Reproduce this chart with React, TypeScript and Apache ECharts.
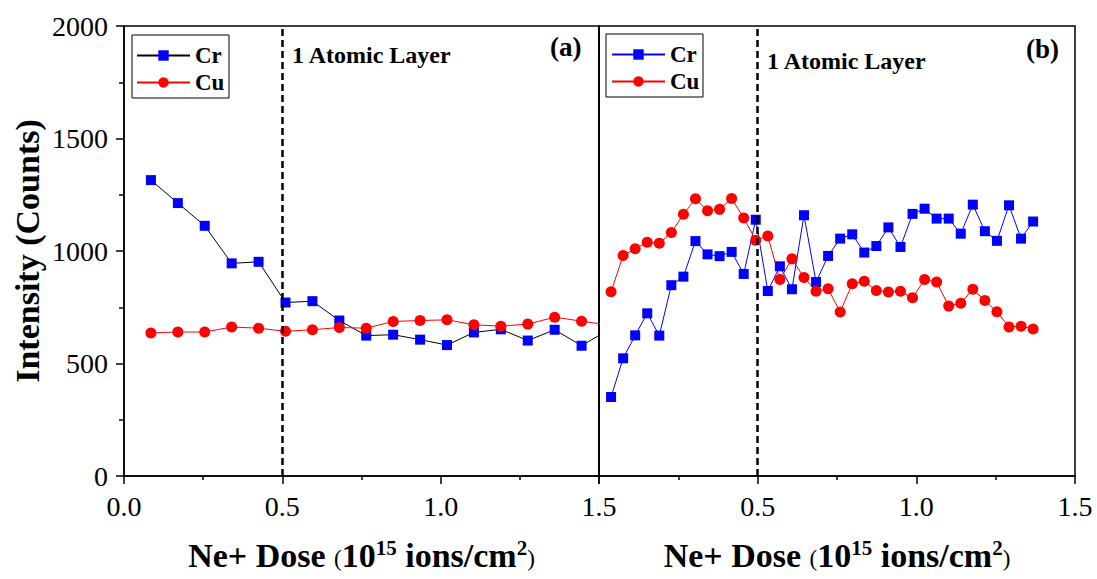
import React, { useEffect, useRef } from "react";
import * as echarts from "echarts";

const FONT = "Liberation Serif";

// Panel (a)
const doseA = [0.085, 0.17, 0.255, 0.34, 0.425, 0.51, 0.595, 0.68, 0.765, 0.85, 0.935, 1.02, 1.105, 1.19, 1.275, 1.36, 1.445, 1.53];
const crA = [1315, 1213, 1112, 945, 952, 771, 777, 691, 624, 628, 606, 582, 638, 652, 602, 650, 579, 650];
const cuA = [636, 640, 640, 662, 657, 643, 650, 660, 657, 687, 691, 694, 672, 666, 675, 706, 688, 671];

// Panel (b)
const doseB = [0.038, 0.076, 0.114, 0.152, 0.19, 0.228, 0.266, 0.304, 0.342, 0.38, 0.418, 0.456, 0.494, 0.532, 0.57, 0.608, 0.646, 0.684, 0.722, 0.76, 0.798, 0.836, 0.874, 0.912, 0.95, 0.988, 1.026, 1.064, 1.102, 1.14, 1.178, 1.216, 1.254, 1.292, 1.33, 1.368];
const crB = [351, 523, 625, 723, 624, 848, 886, 1044, 985, 977, 996, 898, 1139, 822, 932, 830, 1159, 862, 978, 1055, 1074, 993, 1022, 1105, 1018, 1165, 1188, 1144, 1144, 1077, 1206, 1088, 1045, 1203, 1055, 1131];
const cuB = [819, 980, 1010, 1039, 1034, 1082, 1163, 1232, 1179, 1185, 1233, 1147, 1048, 1067, 873, 965, 882, 821, 832, 729, 854, 866, 824, 818, 821, 792, 873, 862, 755, 768, 830, 780, 730, 662, 666, 653];

const xTicksA = ["0.0", "0.5", "1.0", "1.5"];
const xTicksB = ["", "0.5", "1.0", "1.5"];
const layerMark = 0.5;

const pairs = (xs: number[], ys: number[]) => xs.map((x, i) => [x, ys[i]]);

const xTitle = "{b|Ne+ Dose }{p|(}{b|10}{s|15}{b| ions/cm}{s|2}{p|)}";
const xTitleRich = {
  b: { fontFamily: FONT, fontWeight: "bold", fontSize: 34, color: "#000" },
  p: { fontFamily: FONT, fontWeight: "normal", fontSize: 23, color: "#000", padding: [7, 0, 0, 0] },
  s: { fontFamily: FONT, fontWeight: "bold", fontSize: 21, color: "#000", padding: [0, 0, 15, 0] },
};

function xAxisFor(gridIndex: number, labels: string[]) {
  return {
    type: "value",
    gridIndex,
    min: 0,
    max: 1.5,
    interval: 0.5,
    name: xTitle,
    nameLocation: "middle",
    nameGap: 61,
    nameTextStyle: { rich: xTitleRich },
    axisLine: { show: true, onZero: false, lineStyle: { color: "#000", width: 1.5 } },
    axisTick: { show: true, inside: false, length: 8, lineStyle: { color: "#000", width: 1.5 } },
    minorTick: { show: true, splitNumber: 2, length: 4, lineStyle: { color: "#000", width: 1.5 } },
    axisLabel: {
      margin: 16,
      fontFamily: FONT,
      fontSize: 28,
      color: "#000",
      formatter: (v: number) => labels[Math.round(v / 0.5)] ?? "",
    },
    splitLine: { show: false },
  };
}

function dashed() {
  return {
    silent: true,
    symbol: ["none", "none"],
    label: { show: false },
    lineStyle: { color: "#000", type: [7, 4], width: 2.5 },
    data: [{ xAxis: layerMark }],
  };
}

function legendFor(left: number, top: number, names: string[]) {
  return {
    show: true,
    left,
    top,
    orient: "vertical",
    data: names,
    formatter: (n: string) => n.split(" ")[0],
    borderWidth: 0,
    padding: [5, 7, 5, 4],
    itemWidth: 53,
    itemHeight: 13,
    itemGap: 4,
    textStyle: { fontFamily: FONT, fontWeight: "bold", fontSize: 23, color: "#000" },
  };
}

export default function App() {
  const ref = useRef<HTMLDivElement>(null);
  useEffect(() => {
    if (!ref.current) return;
    document.body.style.margin = "0";
    const chart = echarts.init(ref.current, null, { renderer: "svg" });
    chart.setOption({
      animation: false,
      backgroundColor: "#fff",
      grid: [
        { left: 124, top: 26, width: 475, height: 457, show: true, borderColor: "#000", borderWidth: 1.5, backgroundColor: "transparent" },
        { left: 599, top: 26, width: 476, height: 457, show: true, borderColor: "#000", borderWidth: 1.5, backgroundColor: "transparent" },
      ],
      legend: [
        legendFor(132, 39, ["Cr (a)", "Cu (a)"]),
        legendFor(607, 38, ["Cr (b)", "Cu (b)"]),
      ],
      xAxis: [xAxisFor(0, xTicksA), xAxisFor(1, xTicksB)],
      yAxis: [
        {
          type: "value",
          gridIndex: 0,
          min: 0,
          max: 2000,
          interval: 500,
          name: "Intensity (Counts)",
          nameLocation: "middle",
          nameGap: 80,
          nameTextStyle: { fontFamily: FONT, fontWeight: "bold", fontSize: 34, color: "#000" },
          axisLine: { show: true, lineStyle: { color: "#000", width: 1.5 } },
          axisTick: { show: true, inside: false, length: 8, lineStyle: { color: "#000", width: 1.5 } },
          minorTick: { show: true, splitNumber: 2, length: 5, lineStyle: { color: "#000", width: 1.5 } },
          axisLabel: { margin: 16, fontFamily: FONT, fontSize: 28, color: "#000", formatter: (v: number) => String(v) },
          splitLine: { show: false },
        },
        {
          type: "value",
          gridIndex: 1,
          min: 0,
          max: 2000,
          interval: 500,
          axisLine: { show: true, lineStyle: { color: "#000", width: 1.5 } },
          axisTick: { show: false },
          axisLabel: { show: false },
          splitLine: { show: false },
        },
      ],
      graphic: [
        { type: "rect", shape: { x: 132, y: 35, width: 97, height: 63 }, style: { fill: "none", stroke: "#000", lineWidth: 1 }, z: 100 },
        { type: "rect", shape: { x: 606, y: 34, width: 97, height: 63 }, style: { fill: "none", stroke: "#000", lineWidth: 1 }, z: 100 },
        { type: "text", x: 292, y: 55, style: { text: "1 Atomic Layer", font: `bold 24px ${FONT}`, fill: "#000", textVerticalAlign: "middle" } },
        { type: "text", x: 767, y: 61, style: { text: "1 Atomic Layer", font: `bold 24px ${FONT}`, fill: "#000", textVerticalAlign: "middle" } },
        { type: "text", x: 550, y: 47, style: { text: "(a)", font: `bold 27px ${FONT}`, fill: "#000", textVerticalAlign: "middle" } },
        { type: "text", x: 1026, y: 49, style: { text: "(b)", font: `bold 27px ${FONT}`, fill: "#000", textVerticalAlign: "middle" } },
      ],
      series: [
        {
          name: "Cr (a)", type: "line", xAxisIndex: 0, yAxisIndex: 0, clip: true,
          data: pairs(doseA, crA), symbol: "rect", symbolSize: 10,
          itemStyle: { color: "#0000ff" }, lineStyle: { color: "#000", width: 1 },
          markLine: dashed(),
        },
        {
          name: "Cu (a)", type: "line", xAxisIndex: 0, yAxisIndex: 0, clip: true,
          data: pairs(doseA, cuA), symbol: "circle", symbolSize: 11,
          itemStyle: { color: "#ff0000" }, lineStyle: { color: "#ff0000", width: 1 },
        },
        {
          name: "Cr (b)", type: "line", xAxisIndex: 1, yAxisIndex: 1, clip: true,
          data: pairs(doseB, crB), symbol: "rect", symbolSize: 10,
          itemStyle: { color: "#0000ff" }, lineStyle: { color: "#0000ff", width: 1 },
          markLine: dashed(),
        },
        {
          name: "Cu (b)", type: "line", xAxisIndex: 1, yAxisIndex: 1, clip: true,
          data: pairs(doseB, cuB), symbol: "circle", symbolSize: 11,
          itemStyle: { color: "#ff0000" }, lineStyle: { color: "#ff0000", width: 1 },
        },
      ],
    });
    return () => chart.dispose();
  }, []);
  return <div ref={ref} style={{ width: 1097, height: 577 }} />;
}
